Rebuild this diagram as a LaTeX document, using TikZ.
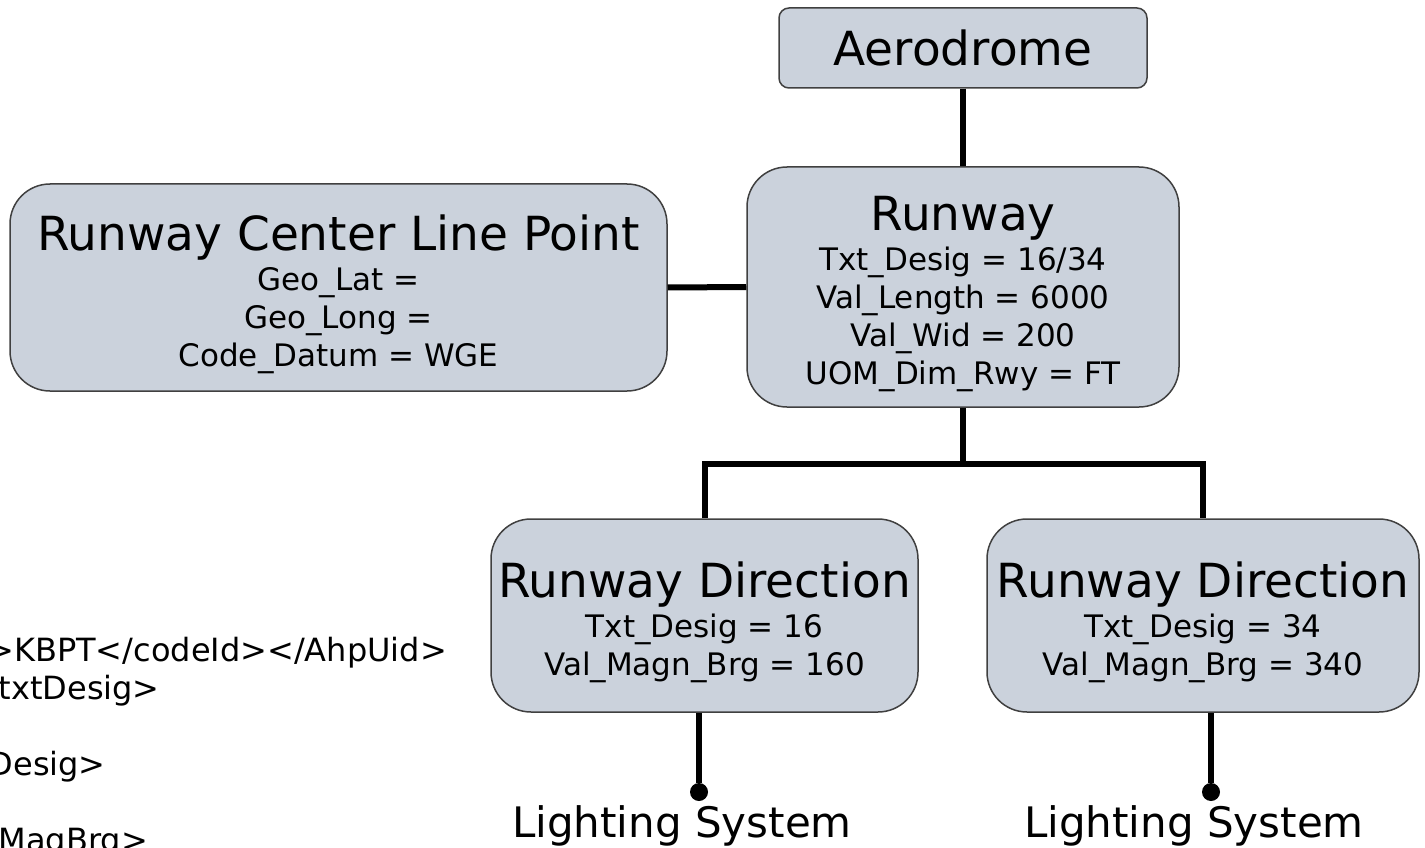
\documentclass[tikz,border=0pt]{standalone}
\usepackage{fontspec}
\setmainfont{DejaVu Sans}

\definecolor{entityfill}{RGB}{203,210,220}
\definecolor{entityline}{RGB}{64,64,64}

\def\lighting{{(699,792)/(682,837)/16}, {(1211,792)/(1194,837)/34}}
\def\fragments{{(447,661)/1/{>KBPT</codeId></AhpUid>}}, {(160,699)/2/{/txtDesig>}}, {(106,775)/3/{Desig>}}, {(148,851)/4/{lMagBrg>}}}

\tikzstyle{entity} = [draw=entityline, fill=entityfill, line width=1.5pt, rounded corners=40pt, align=center, inner sep=0pt, font=\fontsize{31}{38}\selectfont]
\tikzstyle{link} = [draw, line width=6pt, line join=miter, -]
\tikzstyle{pin} = [circle, fill=black, minimum size=18pt, inner sep=0pt]
\tikzstyle{caption} = [anchor=base, inner sep=0pt, font=\fontsize{42}{42}\selectfont]
\tikzstyle{fragment} = [anchor=base east, inner sep=0pt, font=\fontsize{32}{38}\selectfont]

\newcommand{\head}[1]{{\fontsize{47}{47}\selectfont\rule{0pt}{49pt}#1}\\[2pt]}

\begin{document}
\begin{tikzpicture}[x=1pt, y=-1pt]
  \useasboundingbox (0,0) rectangle (1425,848);

  % The entities
  \node[entity, minimum width=368pt, minimum height=80pt, rounded corners=10pt, font=\fontsize{47}{47}\selectfont] (aerodrome) at (963,48) {Aerodrome};
  \node[entity, minimum width=432pt, minimum height=240pt] (runway) at (963,287)
    {\head{Runway}Txt\_Desig = 16/34\\Val\_Length = 6000\\Val\_Wid = 200\\UOM\_Dim\_Rwy = FT};
  \node[entity, minimum width=657pt, minimum height=207pt] (clp) at (338.5,287.5)
    {\head{Runway Center Line Point}Geo\_Lat =\\Geo\_Long =\\Code\_Datum = WGE};
  \node[entity, minimum width=427pt, minimum height=193pt] (dir16) at (704.5,615.5)
    {\head{Runway Direction}Txt\_Desig = 16\\Val\_Magn\_Brg = 160};
  \node[entity, minimum width=432pt, minimum height=193pt] (dir34) at (1203,615.5)
    {\head{Runway Direction}Txt\_Desig = 34\\Val\_Magn\_Brg = 340};

  % Tree connections
  \coordinate (fork) at (963,464);
  \path[link] (aerodrome.south) -- (runway.north);
  \path[link] (runway.west) -- (clp.east);
  \path[link] (runway.south) -- (fork);
  \path[link] (dir16.north) |- (fork) -| (dir34.north);

  % Lighting systems hanging below each direction
  \foreach \pos/\at/\name in \lighting {
    \node[pin] (pin\name) at \pos {};
    \node[caption] (light\name) at \at {Lighting System};
    \path[link] (dir\name.south -| pin\name) -- (pin\name);
  }

  % Cut off text on the left
  \foreach \pos/\name/\txt in \fragments
    \node[fragment] (xml\name) at \pos {\txt};
\end{tikzpicture}
\end{document}
